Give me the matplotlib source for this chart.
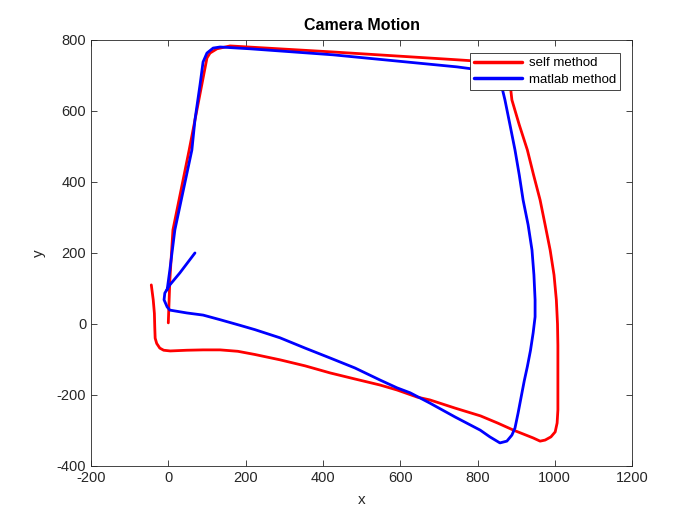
import matplotlib
matplotlib.use("Agg")
import matplotlib.pyplot as plt

plt.rcParams['font.family'] = ['Liberation Sans', 'DejaVu Sans']
plt.rcParams['axes.unicode_minus'] = False

self_x = [0, 4, 12, 54, 100, 108, 126, 160, 426, 747, 830, 870, 885, 889, 908, 929, 945, 962, 975, 988,
          998, 1004, 1007, 1008, 1008, 1008, 1006, 1001, 990, 975, 962, 944, 893, 852, 808, 742, 677,
          644, 592, 548, 483, 419, 354, 289, 224, 180, 134, 90, 48, 5, -12, -22, -30, -34, -35, -36,
          -39, -44]
self_y = [3, 124, 265, 490, 749, 763, 775, 783, 766, 744, 738, 715, 670, 631, 561, 490, 420, 349, 279, 208,
          138, 68, 0, -60, -130, -242, -279, -304, -318, -327, -330, -321, -299, -279, -259, -237, -214,
          -206, -186, -172, -155, -138, -118, -101, -86, -77, -73, -73, -74, -76, -74, -68, -55, -40,
          -10, 30, 68, 110]

matlab_x = [69, 30, 4, -9, -11, -3, 4, 48, 90, 134, 160, 186, 224, 289, 354, 419, 483, 548, 592, 626,
            677, 742, 807, 832, 858, 876, 889, 897, 905, 915, 921, 929, 937, 944, 949, 949, 946, 941,
            931, 918, 908, 897, 884, 871, 858, 830, 747, 426, 211, 134, 116, 100, 90, 82, 69, 61,
            17, 4, -3]
matlab_y = [200, 144, 110, 87, 68, 48, 39, 31, 25, 12, 4, -4, -16, -39, -68, -96, -124, -158, -180, -194,
            -223, -262, -299, -318, -335, -330, -313, -293, -251, -194, -160, -120, -75, -25, 20, 68,
            138, 208, 279, 349, 420, 490, 561, 631, 690, 712, 724, 758, 775, 780, 777, 763, 738, 673,
            575, 490, 265, 152, 96]

fig = plt.figure(figsize=(7, 5.25), dpi=100)
ax = fig.add_axes([0.13, 0.1124, 0.773, 0.8116])

ax.plot(self_x, self_y, color='#ff0000', lw=2.0, solid_joinstyle='round', solid_capstyle='round',
        label='self method')
ax.plot(matlab_x, matlab_y, color='#0000ff', lw=2.0, solid_joinstyle='round', solid_capstyle='round',
        label='matlab method')

ax.set_xlim(-200, 1200)
ax.set_ylim(-400, 800)
ax.set_xticks(range(-200, 1201, 200))
ax.set_yticks(range(-400, 801, 200))
ax.tick_params(direction='in', length=4, width=0.6, labelsize=10.5, top=True, right=True,
               labeltop=False, labelright=False, colors='#262626')
for s in ax.spines.values():
    s.set_linewidth(0.6)
    s.set_color('#262626')
ax.set_xlabel('x', fontsize=11, color='#262626', labelpad=6)
ax.set_ylabel('y', fontsize=11, color='#262626', labelpad=8)
ax.set_title('Camera Motion', fontsize=11.5, fontweight='bold', pad=7)

leg = ax.legend(loc='upper right', bbox_to_anchor=(0.886, 0.899), bbox_transform=fig.transFigure,
                fontsize=9.5, frameon=True, fancybox=False, edgecolor='#262626', framealpha=1,
                handlelength=3.7, borderpad=0.3, labelspacing=0.35, handletextpad=0.5, borderaxespad=0)
leg.get_frame().set_linewidth(0.6)
for line in leg.get_lines():
    line.set_linewidth(2.5)

fig.savefig('out.png', dpi=100)
